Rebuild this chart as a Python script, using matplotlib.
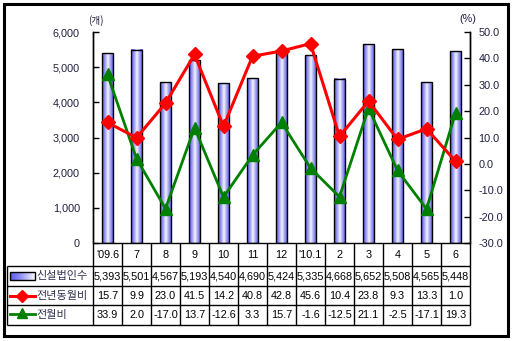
import numpy as np
import matplotlib.pyplot as plt
from matplotlib.patches import Rectangle
from matplotlib.lines import Line2D

months   = ["'09.6", "7", "8", "9", "10", "11", "12", "'10.1", "2", "3", "4", "5", "6"]
firms    = [5393, 5501, 4567, 5193, 4540, 4690, 5424, 5335, 4668, 5652, 5508, 4565, 5448]
yoy      = [15.7, 9.9, 23.0, 41.5, 14.2, 40.8, 42.8, 45.6, 10.4, 23.8, 9.3, 13.3, 1.0]
mom      = [33.9, 2.0, -17.0, 13.7, -12.6, 3.3, 15.7, -1.6, -12.5, 21.1, -2.5, -17.1, 19.3]
row_names = ["신설법인수", "전년동월비", "전월비"]

W, H = 513, 341
num_font = ['Liberation Sans', 'DejaVu Sans']
kr_font = ['Noto Sans CJK KR', 'DejaVu Sans']
tick_col = '#1f1f40'
num_size = 7.8

fig = plt.figure(figsize=(W / 100, H / 100), dpi=100)
fig.patch.set_facecolor('white')

def fx(px):
    return px / W

def fy(py):
    return 1 - py / H

# plot area in pixel units
L, R, T, B = 93, 470, 32, 243
ax = fig.add_axes([fx(L), fy(B), fx(R - L), (B - T) / H])
ax2 = ax.twinx()

n = len(months)
x = np.arange(n)
bw = 0.4

# horizontal blue-white-blue gradient for the bars
blue = np.array([0.36, 0.36, 0.94])
t = np.linspace(0, 1, 40)
w = np.clip(1 - np.abs(t - 0.5) / 0.5, 0, 1) ** 1.3
grad = blue[None, :] * (1 - w[:, None]) + 0.97 * w[:, None]
grad = grad[None, :, :]

for xi, v in zip(x, firms):
    ax.imshow(grad, extent=[xi - bw / 2, xi + bw / 2, 0, v], aspect='auto',
              interpolation='bilinear', zorder=2)
ax.bar(x, firms, width=bw, facecolor='none', edgecolor='black', linewidth=1.0, zorder=3)

ax.set_xlim(-0.5, n - 0.5)
ax.set_ylim(0, 6000)
ax.set_yticks(np.arange(0, 6001, 1000))
ax.set_yticklabels([f"{v:,}" for v in range(0, 6001, 1000)])
ax.set_xticks([])

ax2.plot(x, yoy, color='#ff0000', lw=2.2, marker='D', ms=7, zorder=5)
ax2.plot(x, mom, color='#008000', lw=2.0, marker='^', ms=8, zorder=4)
ax2.set_ylim(-30, 50)
ax2.set_yticks(np.arange(-30, 51, 10))
ax2.set_yticklabels([f"{v:.1f}" for v in range(-30, 51, 10)])

ax.set_zorder(ax2.get_zorder() - 1)
ax2.patch.set_visible(False)

for a in (ax, ax2):
    a.spines['top'].set_visible(False)
    a.spines['bottom'].set_visible(False)
    for s in ('left', 'right'):
        a.spines[s].set_linewidth(1.0)
        a.spines[s].set_color('black')
ax.tick_params(axis='y', direction='in', length=4, width=1, pad=9.5, labelsize=num_size,
               labelcolor=tick_col)
ax2.tick_params(axis='y', direction='in', length=4, width=1, pad=6, labelsize=num_size,
                labelcolor=tick_col)
for lab in ax.get_yticklabels() + ax2.get_yticklabels():
    lab.set_family(num_font)

fig.text(fx(96), fy(21), "(개)", family=kr_font, fontsize=7, color=tick_col,
         ha='center', va='center')
fig.text(fx(468), fy(19), "(%)", family=num_font, fontsize=num_size, color=tick_col,
         ha='center', va='center')

# data table under the chart
TL, TB = 7, 325
tab = fig.add_axes([fx(L), fy(TB), fx(R - L), (TB - B) / H])
tab.axis('off')
cat_px = (R - L) / n
xl = -0.5 - (L - TL) / cat_px          # left edge of the name column
rows = [B, 266, 286, 305, TB]

lk = dict(color='black', lw=1.0, clip_on=False, solid_capstyle='butt')
tab.plot([-0.5, n - 0.5], [rows[0], rows[0]], **lk)
for yy in rows[1:]:
    tab.plot([xl, n - 0.5], [yy, yy], **lk)
for i in range(n + 1):
    tab.plot([i - 0.5, i - 0.5], [rows[0], rows[-1]], **lk)
tab.plot([xl, xl], [rows[1], rows[-1]], **lk)

def mid(i):
    return (rows[i] + rows[i + 1]) / 2

cells = [months,
         [f"{v:,}" for v in firms],
         [f"{v:.1f}" for v in yoy],
         [f"{v:.1f}" for v in mom]]
for r, vals in enumerate(cells):
    for i, s in enumerate(vals):
        tab.text(i, mid(r) + 0.5, s, ha='center', va='center', fontsize=num_size,
                 family=num_font, color='black', clip_on=False)

# row legend keys
px = 1 / cat_px
kx0, kx1 = xl + 3 * px, xl + 28 * px
s = np.linspace(0, 1, 30)[None, :, None] ** 1.2
key_grad = blue[None, None, :] * (1 - s) + s
tab.imshow(key_grad, extent=[kx0, kx1, mid(1) + 4, mid(1) - 4], aspect='auto',
           clip_on=False)
tab.add_patch(Rectangle((kx0, mid(1) - 4), kx1 - kx0, 8, fill=False,
                        edgecolor='black', lw=1.0, clip_on=False))
tab.add_line(Line2D([kx0, kx1], [mid(2), mid(2)], color='#ff0000', lw=2.2,
                    clip_on=False))
tab.add_line(Line2D([(kx0 + kx1) / 2], [mid(2)], color='#ff0000', marker='D', ms=6,
                    clip_on=False))
tab.add_line(Line2D([kx0, kx1], [mid(3) - 1, mid(3) - 1], color='#008000', lw=2.0,
                    clip_on=False))
tab.add_line(Line2D([(kx0 + kx1) / 2], [mid(3) - 2], color='#008000', marker='^', ms=7,
                    clip_on=False))
tab.set_xlim(-0.5, n - 0.5)
tab.set_ylim(TB, B)

for r, name in enumerate(row_names):
    tab.text(xl + 29 * px, mid(r + 1), name, ha='left', va='center', fontsize=8,
             family=kr_font, color='#303050', clip_on=False)

# outer frame
fig.add_artist(Rectangle((fx(4), fy(336)), fx(504), (336 - 4) / H, fill=False,
                         edgecolor='black', lw=2.2, transform=fig.transFigure))

fig.savefig('out.png', dpi=100)
